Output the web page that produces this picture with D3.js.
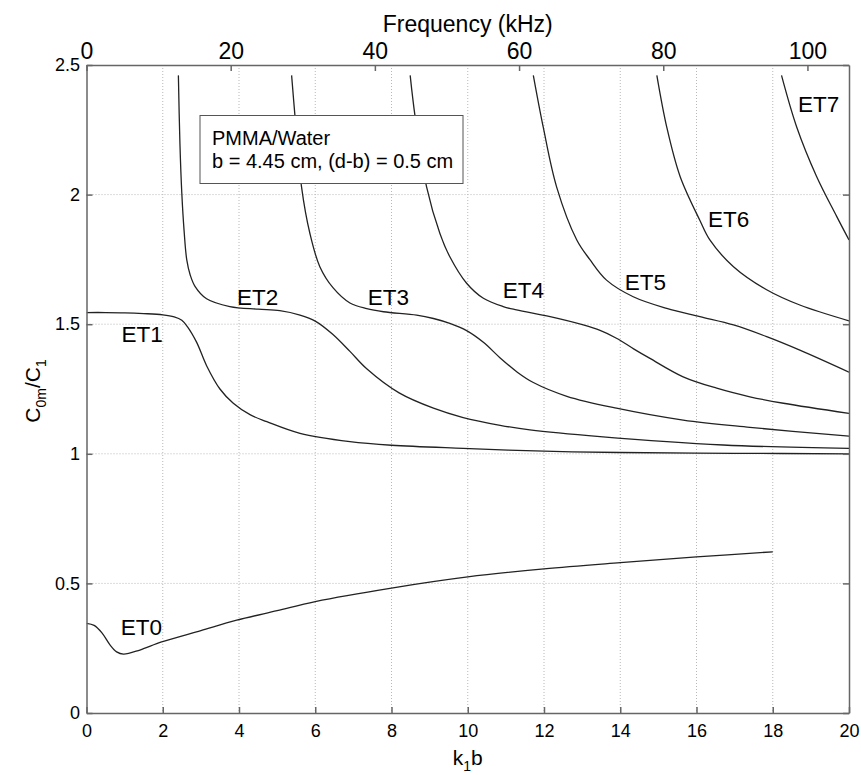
<!DOCTYPE html>
<html>
<head>
<meta charset="utf-8">
<script src="https://cdn.jsdelivr.net/npm/d3@7"></script>
<style>
  body { margin: 0; background: #fff; }
  text { font-family: "Liberation Sans", Arial, sans-serif; fill: #000; }
</style>
</head>
<body>
<div id="chart"></div>
<script>
// chart data
var xTicks = [0, 2, 4, 6, 8, 10, 12, 14, 16, 18, 20];
var yTicks = [0, 0.5, 1, 1.5, 2, 2.5];
var freqTicks = [0, 20, 40, 60, 80, 100];
var kPerKHz = 0.1891; // k1b per kHz

var seriesNames = ["ET0", "ET1", "ET2", "ET3", "ET4", "ET5", "ET6", "ET7"];

var et0 = [[0,0.346],[0.2,0.338],[0.4,0.31],[0.62,0.262],[0.79,0.236],[0.97,0.227],[1.4,0.243],[1.97,0.274],[3,0.318],[3.94,0.358],[5,0.395],[6,0.43],[8,0.482],[10,0.525],[12,0.556],[14,0.58],[16,0.602],[18,0.622]];
var et1 = [[0,1.545],[0.5,1.545],[1,1.544],[1.5,1.541],[2,1.536],[2.3,1.528],[2.5,1.515],[2.65,1.49],[2.89,1.43],[3.15,1.34],[3.5,1.25],[3.85,1.195],[4.3,1.15],[4.73,1.124],[5.6,1.079],[6.91,1.047],[8,1.033],[9.88,1.021],[12,1.01],[14,1.005],[17,1.002],[20,1.0]];
var et2 = [[2.41,2.46],[2.45,2.2],[2.5,2.005],[2.56,1.86],[2.63,1.748],[2.72,1.69],[2.85,1.645],[3.15,1.598],[3.76,1.568],[4.5,1.558],[5.07,1.552],[5.6,1.535],[6.0,1.512],[6.45,1.462],[6.91,1.395],[7.35,1.328],[8.2,1.235],[9.1,1.176],[9.88,1.14],[10.85,1.11],[11.63,1.092],[13.47,1.066],[16.7,1.034],[20,1.021]];
var et3 = [[5.38,2.46],[5.47,2.3],[5.64,2.03],[5.86,1.85],[6.12,1.722],[6.47,1.64],[6.91,1.582],[7.35,1.56],[7.79,1.548],[8.66,1.535],[9.1,1.522],[9.53,1.503],[9.97,1.475],[10.41,1.43],[10.85,1.37],[11.3,1.315],[11.72,1.275],[12.6,1.222],[13.9,1.176],[15.65,1.13],[17.4,1.102],[20,1.068]];
var et4 = [[8.49,2.46],[8.62,2.3],[8.92,2.03],[9.27,1.85],[9.53,1.76],[9.97,1.658],[10.41,1.6],[10.93,1.568],[11.28,1.555],[12.16,1.529],[13.03,1.497],[13.47,1.476],[13.9,1.446],[14.35,1.405],[14.78,1.368],[15.65,1.297],[16.53,1.253],[17.4,1.22],[18.28,1.195],[20,1.156]];
var et5 = [[11.72,2.46],[11.98,2.26],[12.33,2.03],[12.86,1.825],[13.2,1.75],[13.64,1.67],[14.34,1.606],[15.22,1.561],[16.09,1.529],[16.97,1.497],[17.84,1.452],[18.71,1.4],[20,1.315]];
var et6 = [[14.96,2.46],[15.22,2.26],[15.57,2.07],[16.09,1.9],[16.35,1.825],[16.97,1.722],[17.84,1.633],[18.71,1.574],[20,1.513]];
var et7 = [[18.23,2.46],[18.63,2.26],[19.15,2.07],[19.68,1.915],[20,1.825]];
var allSeries = [et0, et1, et2, et3, et4, et5, et6, et7];

// where each curve name sits, in data units
var labelX = [0.9, 0.92, 3.95, 7.38, 10.92, 14.12, 16.3, 18.66];
var labelY = [0.3, 1.432, 1.574, 1.574, 1.6, 1.632, 1.876, 2.32];

var legendLines = ["PMMA/Water", "b = 4.45 cm, (d-b) = 0.5 cm"];

var svgWidth = 861;
var svgHeight = 775;
var plotLeft = 86.5, plotRight = 849, plotTop = 65, plotBottom = 713;

var svg = d3.select("#chart")
  .append("svg")
  .attr("width", svgWidth)
  .attr("height", svgHeight);

var xScale = d3.scaleLinear().domain([0, 20]).range([plotLeft, plotRight]);
var yScale = d3.scaleLinear().domain([0, 2.5]).range([plotBottom, plotTop]);
var fScale = d3.scaleLinear().domain([0, 20 / kPerKHz]).range([plotLeft, plotRight]);

// dotted grid
var grid = svg.append("g");
grid.selectAll(".gx")
  .data(xTicks.slice(1, -1))
  .enter().append("line")
  .attr("x1", d => xScale(d)).attr("x2", d => xScale(d))
  .attr("y1", plotTop).attr("y2", plotBottom)
  .attr("stroke", "#b8b8b8").attr("stroke-width", 1)
  .attr("stroke-dasharray", "1,2");
grid.selectAll(".gy")
  .data(yTicks.slice(1, -1))
  .enter().append("line")
  .attr("x1", plotLeft).attr("x2", plotRight)
  .attr("y1", d => yScale(d)).attr("y2", d => yScale(d))
  .attr("stroke", "#b8b8b8").attr("stroke-width", 1)
  .attr("stroke-dasharray", "1,2");

// curves
svg.append("clipPath").attr("id", "clip")
  .append("rect").attr("x", plotLeft).attr("y", plotTop)
  .attr("width", plotRight - plotLeft).attr("height", plotBottom - plotTop);

var line = d3.line()
  .x(d => xScale(d[0]))
  .y(d => yScale(d[1]))
  .curve(d3.curveCatmullRom.alpha(0.5));

svg.append("g").attr("clip-path", "url(#clip)")
  .selectAll("path")
  .data(allSeries)
  .enter().append("path")
  .attr("d", line)
  .attr("fill", "none")
  .attr("stroke", "#222")
  .attr("stroke-width", 1.3);

// curve names
svg.selectAll(".lbl")
  .data(seriesNames)
  .enter().append("text")
  .attr("x", (d, i) => xScale(labelX[i]))
  .attr("y", (d, i) => yScale(labelY[i]))
  .style("font-size", "22.5px")
  .text(d => d);

// legend box
svg.append("rect")
  .attr("x", 200).attr("y", 115.5)
  .attr("width", 263).attr("height", 68)
  .attr("fill", "#fff").attr("stroke", "#555").attr("stroke-width", 1);
svg.selectAll(".leg")
  .data(legendLines)
  .enter().append("text")
  .attr("x", 212)
  .attr("y", (d, i) => 145 + i * 23)
  .style("font-size", "20px")
  .text(d => d);

// axes
function styleAxis(g) {
  g.selectAll("path, line").attr("stroke", "#666").attr("stroke-width", 1.5);
  g.selectAll("text").attr("fill", "#000");
}

svg.append("g")
  .attr("transform", `translate(0, ${plotBottom})`)
  .call(d3.axisBottom(xScale).tickValues(xTicks).tickFormat(d => String(d))
    .tickSizeInner(-6).tickSizeOuter(0).tickPadding(11))
  .call(g => g.selectAll("text").style("font-size", "18px").attr("font-family", null))
  .call(styleAxis);

svg.append("g")
  .attr("transform", `translate(0, ${plotTop})`)
  .call(d3.axisTop(fScale).tickValues(freqTicks).tickFormat(d => String(d))
    .tickSizeInner(-6).tickSizeOuter(0).tickPadding(6))
  .call(g => g.selectAll("text").style("font-size", "23px").attr("font-family", null))
  .call(styleAxis);

svg.append("g")
  .attr("transform", `translate(${plotLeft}, 0)`)
  .call(d3.axisLeft(yScale).tickValues(yTicks).tickFormat(d => String(d))
    .tickSizeInner(-6).tickSizeOuter(0).tickPadding(6.5))
  .call(g => g.selectAll("text").style("font-size", "18px").attr("font-family", null))
  .call(styleAxis);

svg.append("g")
  .attr("transform", `translate(${plotRight}, 0)`)
  .call(d3.axisRight(yScale).tickValues(yTicks).tickFormat("")
    .tickSizeInner(-6).tickSizeOuter(0))
  .call(styleAxis);

// axis titles
svg.append("text")
  .attr("x", (plotLeft + plotRight) / 2).attr("y", 32)
  .attr("text-anchor", "middle")
  .style("font-size", "23px")
  .text("Frequency (kHz)");

var xt = svg.append("text")
  .attr("x", (plotLeft + plotRight) / 2).attr("y", 765)
  .attr("text-anchor", "middle")
  .style("font-size", "21px");
xt.append("tspan").text("k");
xt.append("tspan").attr("dy", 6).style("font-size", "14px").text("1");
xt.append("tspan").attr("dy", -6).text("b");

var yt = svg.append("text")
  .attr("transform", `translate(40, ${(plotTop + plotBottom) / 2 + 2}) rotate(-90)`)
  .attr("text-anchor", "middle")
  .style("font-size", "21px");
yt.append("tspan").text("C");
yt.append("tspan").attr("dy", 6).style("font-size", "14px").text("0m");
yt.append("tspan").attr("dy", -6).text("/C");
yt.append("tspan").attr("dy", 6).style("font-size", "14px").text("1");
</script>
</body>
</html>
